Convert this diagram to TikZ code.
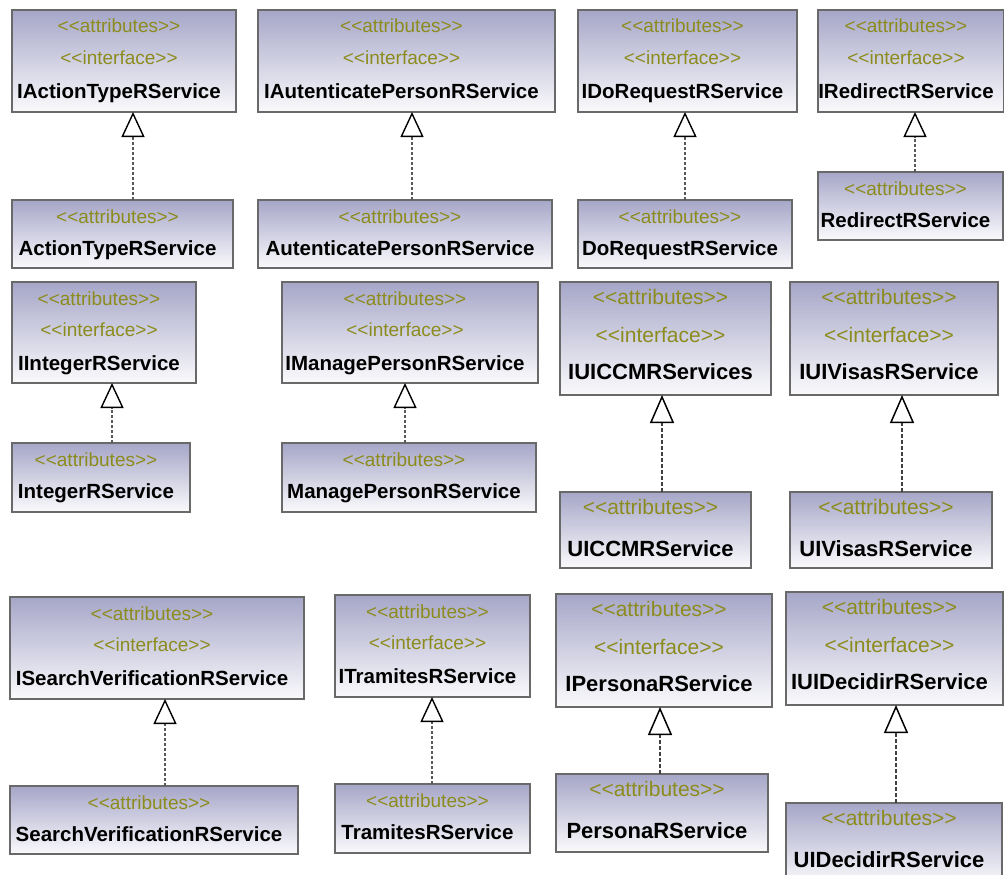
\documentclass[tikz,border=0pt]{standalone}
\usepackage{fontspec}
\setmainfont{Liberation Sans}[Ligatures=TeXOff]
\usetikzlibrary{arrows.meta}

\definecolor{boxtop}{RGB}{166,166,200}
\definecolor{boxbottom}{RGB}{250,250,252}
\definecolor{boxline}{RGB}{105,105,105}
\definecolor{stereo}{RGB}{140,140,30}

\tikzset{
  umlbox/.style={draw=boxline, line width=1.8pt, top color=boxtop,
    bottom color=boxbottom, inner sep=0pt, outer sep=0pt, anchor=north west},
  stsm/.style={text=stereo, font=\fontsize{19}{19}\selectfont, anchor=base, inner sep=0pt},
  nmsm/.style={text=black, font=\fontsize{20.5}{20.5}\selectfont\bfseries, anchor=base, inner sep=0pt},
  stlg/.style={text=stereo, font=\fontsize{21}{21}\selectfont, anchor=base, inner sep=0pt},
  nmlg/.style={text=black, font=\fontsize{22}{22}\selectfont\bfseries, anchor=base, inner sep=0pt},
  realsm/.style={draw=gray!70!black, line width=2.2pt, dash pattern=on 3pt off 2pt,
    -{Triangle[length=25pt, width=23pt, line width=1.4pt, color=black, fill=white]}},
  reallg/.style={draw=black!75, line width=1.6pt, dash pattern=on 4pt off 2pt,
    -{Triangle[length=28pt, width=24pt, line width=1.5pt, color=black, fill=white]}},
}

% interface box: id, left, top, right, bottom, name
\newcommand\ifacesm[6]{%
  \node[umlbox, minimum width={(#4-#2)*1pt}, minimum height={(#5-#3)*1pt}] (#1) at (#2,#3) {};
  \node[stsm] (#1-a) at ([xshift=-5pt,yshift=-23pt]#1.north) {<<attributes>>};
  \node[stsm] (#1-i) at ([xshift=-5pt,yshift=-54pt]#1.north) {<<interface>>};
  \node[nmsm] (#1-n) at ([xshift=-5pt,yshift=-88pt]#1.north) {#6};
}
\newcommand\ifacelg[6]{%
  \node[umlbox, minimum width={(#4-#2)*1pt}, minimum height={(#5-#3)*1pt}] (#1) at (#2,#3) {};
  \node[stlg] (#1-a) at ([xshift=-5pt,yshift=-22pt]#1.north) {<<attributes>>};
  \node[stlg] (#1-i) at ([xshift=-5pt,yshift=-60pt]#1.north) {<<interface>>};
  \node[nmlg] (#1-n) at ([xshift=-5pt,yshift=-97pt]#1.north) {#6};
}
% implementing class: id, left, top, right, bottom, name, interface id, x of the realization line
\newcommand\implsm[8]{%
  \node[umlbox, minimum width={(#4-#2)*1pt}, minimum height={(#5-#3)*1pt}] (#1) at (#2,#3) {};
  \node[stsm] (#1-a) at ([xshift=-5pt,yshift=-23pt]#1.north) {<<attributes>>};
  \node[nmsm] (#1-n) at ([xshift=-5pt,yshift=-55pt]#1.north) {#6};
  \coordinate (#1-x) at (#8,0);
  \draw[realsm] (#1.north -| #1-x) -- (#7.south -| #1-x);
}
\newcommand\impllg[8]{%
  \node[umlbox, minimum width={(#4-#2)*1pt}, minimum height={(#5-#3)*1pt}] (#1) at (#2,#3) {};
  \node[stlg] (#1-a) at ([xshift=-5pt,yshift=-22pt]#1.north) {<<attributes>>};
  \node[nmlg] (#1-n) at ([xshift=-5pt,yshift=-64pt]#1.north) {#6};
  \coordinate (#1-x) at (#8,0);
  \draw[reallg] (#1.north -| #1-x) -- (#7.south -| #1-x);
}

\begin{document}
\begin{tikzpicture}[x=1pt, y=-1pt]
  \useasboundingbox (0,0) rectangle (1004,875);
  \clip (0,0) rectangle (1004,875);
  \fill[white] (0,0) rectangle (1004,875);

  % first row
  \ifacesm{iat}{12}{10}{236}{112}{IActionTypeRService}
  \implsm{at}{12}{200}{233}{268}{ActionTypeRService}{iat}{133}
  \ifacesm{iap}{258}{10}{555}{112}{IAutenticatePersonRService}
  \implsm{ap}{258}{200}{552}{268}{AutenticatePersonRService}{iap}{412}
  \ifacesm{idr}{578}{10}{797}{112}{IDoRequestRService}
  \implsm{dr}{578}{200}{792}{268}{DoRequestRService}{idr}{685}
  \ifacesm{ird}{818}{10}{1004}{112}{IRedirectRService}
  \implsm{rd}{818}{172}{1003}{240}{RedirectRService}{ird}{915}

  % second row
  \ifacesm{iin}{12}{282}{196}{383}{IIntegerRService}
  \implsm{in}{12}{443}{190}{512}{IntegerRService}{iin}{112}
  \ifacesm{imp}{282}{282}{538}{383}{IManagePersonRService}
  \implsm{mp}{282}{443}{536}{512}{ManagePersonRService}{imp}{405}
  \ifacelg{iuc}{560}{282}{771}{395}{IUICCMRServices}
  \impllg{uc}{560}{492}{751}{568}{UICCMRService}{iuc}{662}
  \ifacelg{iuv}{790}{282}{998}{395}{IUIVisasRService}
  \impllg{uv}{790}{492}{992}{568}{UIVisasRService}{iuv}{902}

  % third row
  \ifacesm{isv}{10}{597}{304}{699}{ISearchVerificationRService}
  \implsm{sv}{10}{786}{298}{854}{SearchVerificationRService}{isv}{165}
  \ifacesm{itr}{335}{595}{530}{697}{ITramitesRService}
  \implsm{tr}{335}{784}{530}{853}{TramitesRService}{itr}{432}
  \ifacelg{ipe}{556}{594}{772}{707}{IPersonaRService}
  \impllg{pe}{556}{774}{768}{852}{PersonaRService}{ipe}{660}
  \ifacelg{iud}{786}{592}{1003}{705}{IUIDecidirRService}
  \impllg{ud}{786}{803}{1002}{885}{UIDecidirRService}{iud}{896}
\end{tikzpicture}
\end{document}
